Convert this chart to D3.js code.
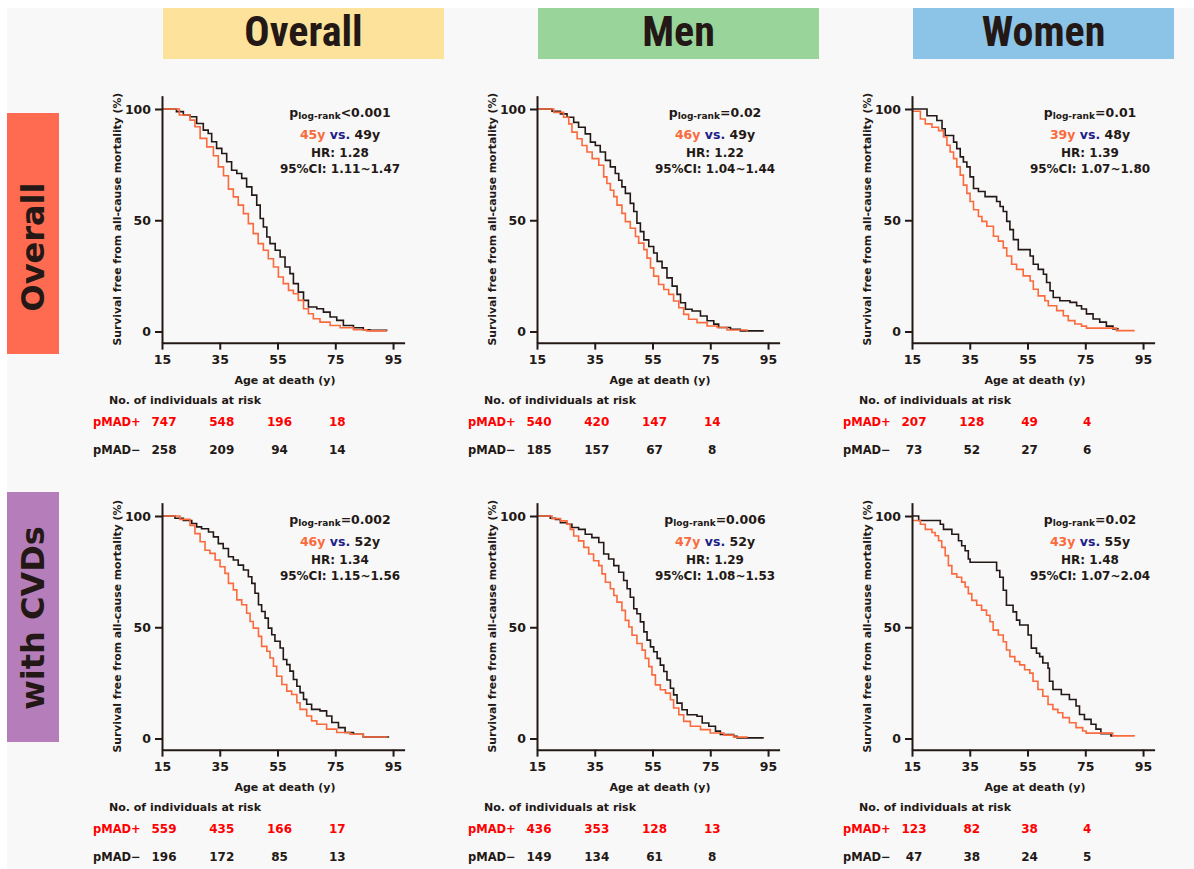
<!DOCTYPE html>
<html>
<head>
<meta charset="utf-8">
<script src="https://cdn.jsdelivr.net/npm/d3@7"></script>
<style>
  body { margin: 0; background: #fff; }
  svg { display: block; }
</style>
</head>
<body>
<script>
var columns = ["Overall", "Men", "Women"];
var rows = ["Overall", "with CVDs"];
var xTicks = [15, 35, 55, 75, 95];
var yTicks = [0, 50, 100];
var riskAges = [15, 35, 55, 75];

// survival curves: [age, % surviving]
var allPos = [[15,100],[21,97.3],[24.7,95],[26.4,92],[28.2,86.8],[30.5,83],[32.8,79],[34.5,74],[36.3,70],[38,64],[39.7,60.5],[41.4,56.8],[43.2,53],[44.9,48.5],[46.6,44],[48.3,39.5],[50.1,36.5],[51.8,32.7],[53.6,29],[55.3,24.5],[57,21.5],[58.8,18.5],[60.5,17],[62.2,14],[64,10.2],[65.7,8],[67.4,5.7],[69.7,4.2],[73.2,2.7],[76.7,1.7],[81.3,0.8],[85.9,0.3],[92.8,0.3]];
var allNeg = [[15,100],[20,98.8],[22.4,97.3],[24.7,96.5],[27,93.5],[29.3,90.5],[31,89],[32.2,85.3],[33.9,82.3],[35.7,80],[37.4,76.3],[39.1,72.5],[40.9,71],[42.6,68.8],[44.3,65],[46.1,61.3],[47.8,56.8],[49,50.8],[50.1,47],[51.3,42.5],[52.4,39.5],[54.2,36.5],[55.9,33.5],[57.6,29],[59.3,26],[60.5,21.5],[62.2,17.7],[64,14],[65.7,11],[68.6,10.2],[70.9,8.7],[73.2,6.5],[75.5,5],[77.8,2.7],[81.3,1.7],[84.7,0.8],[87,0.5],[92.8,0.3]];
var menPos = [[15,100],[20.8,98.5],[24.2,96.3],[26,93.3],[27.1,89.6],[28.9,86.6],[30.6,83.6],[32.3,80.7],[34.1,77.7],[36.4,74.7],[38.1,69.5],[39.2,66.5],[40.4,63.5],[41.6,60.6],[42.7,56.8],[44.4,53.1],[45.6,49.4],[47.3,46.4],[49.1,42.7],[50.2,39.7],[52,36.8],[53.1,33],[54.3,28.6],[55.4,24.9],[57.1,21.1],[58.9,18.9],[60.6,16.7],[62.3,13.7],[64.1,10.7],[65.8,7.7],[67.5,5.5],[70.4,4],[73.9,2.5],[77.4,1.8],[80.8,0.7],[87.7,0]];
var menNeg = [[15,100],[20.2,99],[23.1,97.8],[25.4,96.3],[27.7,94],[29.4,91.8],[31.7,88.8],[33.5,85.1],[35.2,83.6],[36.9,80.7],[38.7,76.9],[40.4,74],[42.1,71],[43.3,68],[44.4,65],[45.6,62.1],[47.3,57.6],[48.5,53.9],[49.6,48.7],[50.8,44.9],[52,41.2],[53.7,38.2],[55.4,35.3],[56.6,31.5],[58.3,28.6],[60,24.1],[61.8,20.4],[63.5,16.7],[64.7,12.9],[66.4,10],[68.7,9.2],[71.6,7],[73.9,4.8],[76.2,3.3],[77.9,1.8],[82,1],[85.4,0.3],[93.5,0.3]];
var womenPos = [[15,99],[17.9,95.5],[19.6,93.3],[21.9,91.8],[24.2,90.3],[25.9,87.4],[27.1,83.7],[28.2,80.7],[29.4,77.7],[30.5,74],[31.7,70.3],[32.8,65.8],[34,62.1],[35.1,58.4],[36.3,54.7],[38,51.7],[39.2,49.5],[40.9,47.3],[43.2,42.8],[44.9,40.6],[46.6,37.6],[47.8,33.9],[49.5,30.2],[51.2,27.9],[53.5,25],[55.9,22.7],[57,19],[58.7,16],[61,13.8],[62.2,11.6],[65.1,9.4],[67.4,7.1],[69.1,4.9],[71.4,3.4],[73.7,2.4],[75.4,1.5],[85.8,0.4],[92.1,0.4]];
var womenNeg = [[15,100],[20.2,97],[23.6,94.8],[25.4,91.1],[26.5,88.1],[29.4,85.1],[30.5,82.2],[31.7,78.5],[32.8,76.2],[34,74],[35.1,69.5],[36.3,64.3],[38,62.9],[40.3,60.6],[44.3,58.4],[45.5,56.2],[46.6,53.9],[47.8,49.5],[48.9,45.8],[50.1,41.3],[51.8,36.8],[55.9,33.9],[57,30.2],[58.7,27.9],[60.5,25.7],[61.6,22],[62.8,18.3],[63.9,15.3],[66.2,13.8],[69.7,13.1],[72,11.6],[73.7,10.1],[75.4,7.9],[77.7,5.6],[80,4.2],[82.3,2.4],[84.6,1.2],[86.3,0.9]];
var cvdAllPos = [[15,100],[21.2,98.5],[24.7,95.8],[26.4,92.1],[28.2,88.4],[29.9,84.6],[31.6,83.2],[33.4,80.2],[35.1,77.2],[36.8,74.2],[38,69.7],[39.7,66.8],[40.9,62.3],[42.6,60.1],[44.3,56.3],[45.5,52.6],[46.6,49.6],[48.4,45.9],[49.5,41.4],[51.3,39.2],[52.4,36.2],[53.6,32.5],[54.7,28],[56.5,24.3],[58.2,21.3],[59.9,19.8],[61.7,16.1],[62.8,13.1],[65.1,10.1],[66.8,7.9],[68.6,6.4],[72,4.2],[75.5,2.7],[80.1,1.9],[84.7,0.7],[92.8,0.4]];
var cvdAllNeg = [[15,100],[19.5,99],[22.4,98],[25.3,96.6],[27,95.1],[28.7,94.3],[31.1,92.8],[32.8,90.6],[34.5,87.6],[36.2,85.4],[38,81.7],[39.7,80.2],[41.4,77.9],[43.2,75.7],[44.9,72.7],[46.1,69.7],[47.2,65.3],[48.4,60.1],[49.5,57.1],[50.7,54.1],[51.8,49.6],[53,46.6],[54.1,43.7],[55.9,40.7],[57,35.5],[58.2,33.2],[59.3,30.3],[60.5,26.5],[61.7,23.5],[62.8,20.6],[64,17.6],[65.1,15.4],[66.8,13.1],[69.7,12.4],[72,10.1],[73.8,7.2],[76.1,4.9],[78.4,2.7],[81.3,1.9],[84.7,0.7],[93.4,0.4]];
var cvdMenPos = [[15,100],[20.2,98.8],[23.1,97.8],[25.4,96.3],[26.5,94],[27.7,91],[29.4,88.8],[31.2,85.9],[32.9,82.9],[34.6,79.9],[36.4,77.7],[37.5,74],[38.7,70.2],[40.4,67.3],[41.6,64.3],[42.7,61.3],[44.4,57.6],[45.6,53.1],[46.8,50.1],[47.9,46.4],[49.6,42.7],[51.4,39.7],[52.5,36],[53.7,32.3],[54.8,28.6],[56,24.1],[57.7,21.9],[59.5,20.4],[61.2,17.4],[62.3,13.7],[64.1,10.7],[65.8,7.7],[68.1,5.5],[71.6,4],[75,2.5],[79.7,1.5],[83.1,0.6],[87.7,0.3]];
var cvdMenNeg = [[15,100],[19.6,99],[21.4,98.5],[23.1,97],[25.4,96.3],[27.1,94.8],[29.4,94],[31.7,91.8],[34,90.3],[36.4,88.1],[38.1,82.9],[39.8,80.7],[41.6,77.7],[43.3,74.7],[45,71],[46.2,67.3],[47.3,63.5],[48.5,58.3],[49.6,56.1],[50.8,52.4],[52,47.9],[53.1,44.2],[54.3,41.2],[55.4,39],[56.6,36],[57.7,33],[58.9,30.1],[60,26.3],[61.2,22.6],[62.3,19.6],[63.5,15.9],[65.2,12.9],[67,10.7],[70.4,10],[72.2,7],[74.5,5.5],[76.8,3.3],[78.5,1.8],[83.1,1],[84.3,0.3],[93.5,0.3]];
var cvdWomenPos = [[15,98],[17.9,96.3],[19.6,94],[21.9,92.6],[23,91.1],[24.2,88.9],[25.3,85.9],[26.5,82.2],[27.6,77.7],[28.8,74],[30.5,72.5],[32.2,70.3],[33.4,68.1],[34.5,65.1],[35.7,62.1],[37.4,59.9],[39.1,57.7],[40.8,55.4],[42,52.5],[43.1,48.7],[44.9,46.5],[46.6,43.5],[47.7,39.8],[48.9,36.8],[50.6,34.6],[52.3,33.1],[54,30.9],[55.8,29.4],[56.9,25.7],[58.6,22],[60.3,19],[62.1,15.3],[63.8,13.1],[65.5,11.6],[67.2,9.4],[69.5,7.1],[71.8,4.9],[74.1,3.4],[75.3,2.4],[84.5,1.2],[91.9,0.9]];
var cvdWomenNeg = [[15,100],[17.3,98],[24.8,96.3],[25.9,94],[28.8,91.8],[31.1,88.9],[32.2,86.6],[33.4,84.4],[34.5,80.7],[35.1,79.2],[44.3,75.5],[45.4,72.5],[46.6,66.6],[47.7,59.9],[50,56.9],[51.2,53.2],[52.3,51],[55.2,46.5],[56.3,40.6],[58.1,38.3],[59.2,36.8],[60.3,33.9],[62.1,31.6],[62.6,25.7],[63.8,22],[66.7,19.8],[69.5,17.5],[71.8,14.6],[73,10.8],[74.7,8.6],[77,6.4],[78.7,4.2],[80.4,2.2],[83.9,1.2],[84.5,1.2]];

var curvesPos = [allPos, menPos, womenPos, cvdAllPos, cvdMenPos, cvdWomenPos];
var curvesNeg = [allNeg, menNeg, womenNeg, cvdAllNeg, cvdMenNeg, cvdWomenNeg];

var riskPos = [[747,548,196,18],[540,420,147,14],[207,128,49,4],[559,435,166,17],[436,353,128,13],[123,82,38,4]];
var riskNeg = [[258,209,94,14],[185,157,67,8],[73,52,27,6],[196,172,85,13],[149,134,61,8],[47,38,24,5]];
var pValues = ["<0.001","=0.02","=0.01","=0.002","=0.006","=0.02"];
var medianPos = ["45y","46y","39y","46y","47y","43y"];
var medianNeg = ["49y","49y","48y","52y","52y","55y"];
var hrValues = ["1.28","1.22","1.39","1.34","1.29","1.48"];
var ciValues = ["1.11~1.47","1.04~1.44","1.07~1.80","1.15~1.56","1.08~1.53","1.07~2.04"];

var width = 1194, height = 869;
var dark = "#231815", orange = "#fb6a3c", navy = "#1d2088", red = "#ff0000";
var font = "'DejaVu Sans', Verdana, sans-serif";

var svg = d3.select("body").append("svg")
    .attr("width", width)
    .attr("height", height)
    .style("font-family", font)
    .style("font-weight", "bold");

svg.append("rect").attr("width", width).attr("height", height).attr("fill", "#fff");
svg.append("rect")
    .attr("x", 7).attr("y", 8)
    .attr("width", width - 7).attr("height", height - 8)
    .attr("fill", "#f8f8f8");

var colX = [162, 537, 912];
var rowY = [109, 516];
var headerColors = ["#fce29a", "#99d59b", "#8cc4e8"];
var headerWidths = [281, 281, 261];

// column headers
columns.forEach(function(c, i) {
  svg.append("rect")
    .attr("x", colX[i] + 1).attr("y", 8)
    .attr("width", headerWidths[i]).attr("height", 51)
    .attr("fill", headerColors[i]);
  svg.append("text")
    .attr("x", colX[i] + 1 + headerWidths[i] / 2)
    .attr("y", 46)
    .attr("text-anchor", "middle")
    .style("font-family", "'Liberation Sans Narrow', 'Roboto Condensed', 'Arial Narrow', sans-serif")
    .style("font-size", "42px")
    .style("fill", dark)
    .text(c);
});

// row headers
var rowBoxes = [{ y: 113, h: 241, c: "#ff6b50", t: 247 }, { y: 492, h: 250, c: "#b57ebb", t: 618 }];
rows.forEach(function(r, i) {
  var b = rowBoxes[i];
  svg.append("rect")
    .attr("x", 7).attr("y", b.y)
    .attr("width", 52).attr("height", b.h)
    .attr("fill", b.c);
  svg.append("text")
    .attr("transform", "translate(44," + b.t + ") rotate(-90)")
    .attr("text-anchor", "middle")
    .style("font-size", "32px")
    .style("fill", dark)
    .text(r);
});

var x = d3.scaleLinear().domain([15, 99]).range([0, 242.6]);
var y = d3.scaleLinear().domain([0, 100]).range([222.5, 0]);
var yAxisScale = d3.scaleLinear().domain([-5, 106]).range([y(-5), y(106)]);

var line = d3.line()
    .x(function(d) { return x(d[0]); })
    .y(function(d) { return y(d[1]); })
    .curve(d3.curveStepAfter);

for (var k = 0; k < 6; k++) {
  var col = k % 3, row = Math.floor(k / 3);
  var g = svg.append("g")
    .attr("transform", "translate(" + colX[col] + "," + rowY[row] + ")");

  // curves
  g.append("path")
    .attr("d", line(curvesNeg[k]))
    .attr("fill", "none")
    .attr("stroke", dark)
    .attr("stroke-width", 1.6);
  g.append("path")
    .attr("d", line(curvesPos[k]))
    .attr("fill", "none")
    .attr("stroke", orange)
    .attr("stroke-width", 1.6);

  // axes
  var ya = g.append("g")
    .call(d3.axisLeft(yAxisScale).tickValues(yTicks).tickSize(7).tickSizeOuter(0).tickPadding(4));
  var xa = g.append("g")
    .attr("transform", "translate(0," + y(-5) + ")")
    .call(d3.axisBottom(x).tickValues(xTicks).tickSize(7).tickSizeOuter(0).tickPadding(5));
  [ya, xa].forEach(function(a) {
    a.select(".domain").attr("stroke", dark).attr("stroke-width", 2);
    a.selectAll(".tick line").attr("stroke", dark).attr("stroke-width", 2);
    a.selectAll(".tick text")
      .attr("fill", dark)
      .style("font-family", font)
      .style("font-size", "12.5px")
      .style("font-weight", "bold");
  });

  // axis titles
  g.append("text")
    .attr("transform", "translate(-41," + (y(-5) + y(106)) / 2 + ") rotate(-90)")
    .attr("text-anchor", "middle")
    .style("font-size", "10.8px")
    .style("fill", dark)
    .text("Survival free from all-cause mortality (%)");
  g.append("text")
    .attr("x", 123).attr("y", 275)
    .attr("text-anchor", "middle")
    .style("font-size", "11px")
    .style("fill", dark)
    .text("Age at death (y)");

  // annotation
  var ax = 178;
  var pt = g.append("text")
    .attr("x", ax).attr("y", 8)
    .attr("text-anchor", "middle")
    .style("fill", dark)
    .style("font-size", "12.5px");
  pt.append("tspan").text("p");
  pt.append("tspan").attr("dy", 2).style("font-size", "9px").text("log-rank");
  pt.append("tspan").attr("dy", -2).text(pValues[k]);

  var mt = g.append("text")
    .attr("x", ax).attr("y", 30)
    .attr("text-anchor", "middle")
    .style("font-size", "12.5px");
  mt.append("tspan").attr("fill", orange).text(medianPos[k]);
  mt.append("tspan").attr("fill", navy).text(" vs. ");
  mt.append("tspan").attr("fill", dark).text(medianNeg[k]);

  g.append("text")
    .attr("x", ax).attr("y", 48)
    .attr("text-anchor", "middle")
    .style("font-size", "12px")
    .style("fill", dark)
    .text("HR: " + hrValues[k]);
  g.append("text")
    .attr("x", ax).attr("y", 64)
    .attr("text-anchor", "middle")
    .style("font-size", "12px")
    .style("fill", dark)
    .text("95%CI: " + ciValues[k]);

  // numbers at risk
  g.append("text")
    .attr("x", -53).attr("y", 295)
    .style("font-size", "11px")
    .style("fill", dark)
    .text("No. of individuals at risk");
  g.append("text")
    .attr("x", -69).attr("y", 317)
    .style("font-size", "11.5px")
    .style("fill", red)
    .text("pMAD+");
  g.append("text")
    .attr("x", -69).attr("y", 345)
    .style("font-size", "11.5px")
    .style("fill", dark)
    .text("pMAD\u2212");
  g.selectAll(".rp")
    .data(riskPos[k])
    .enter().append("text")
    .attr("x", function(d, i) { return x(riskAges[i]) + 2; })
    .attr("y", 317)
    .attr("text-anchor", "middle")
    .style("font-size", "12px")
    .style("fill", red)
    .text(function(d) { return d; });
  g.selectAll(".rn")
    .data(riskNeg[k])
    .enter().append("text")
    .attr("x", function(d, i) { return x(riskAges[i]) + 2; })
    .attr("y", 345)
    .attr("text-anchor", "middle")
    .style("font-size", "12px")
    .style("fill", dark)
    .text(function(d) { return d; });
}
</script>
</body>
</html>
